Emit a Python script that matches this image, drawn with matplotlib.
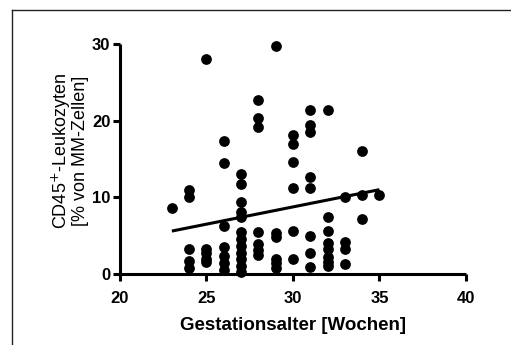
import numpy as np
import matplotlib.pyplot as plt
from matplotlib.lines import Line2D

plt.rcParams["font.family"] = ["Liberation Sans", "DejaVu Sans"]

# Gestational age (weeks) and CD45+ share per sample, grouped by week
weeks = [23, 24, 25, 26, 27, 28, 29, 30, 31, 32, 33, 34, 35]
cd45_by_week = [
    [8.6],
    [11.0, 10.0, 3.2, 1.7, 0.8],
    [28.1, 3.3, 2.8, 1.9, 1.5],
    [17.4, 14.5, 6.2, 3.5, 2.3, 1.4, 0.5],
    [13.1, 11.7, 9.4, 8.1, 7.4, 5.5, 4.6, 3.7, 2.8, 1.9, 1.0, 0.3],
    [22.7, 20.3, 19.2, 5.5, 3.9, 3.1, 2.5],
    [29.8, 5.3, 4.8, 2.0, 1.4, 0.8],
    [18.1, 17.0, 14.6, 11.2, 5.6, 1.9],
    [21.4, 19.4, 18.5, 12.6, 11.2, 4.9, 2.7, 0.9],
    [21.4, 7.4, 5.6, 4.0, 3.3, 2.2, 1.6, 1.1],
    [10.0, 4.2, 3.2, 1.3],
    [16.0, 10.3, 7.2],
    [10.3],
]

# regression line as reported (ends at first and last week)
fit_weeks = [23, 35]
fit_cd45 = [5.6, 11.0]

x_ticks = [20, 25, 30, 35, 40]
y_ticks = [0, 10, 20, 30]

age = np.concatenate([[w] * len(v) for w, v in zip(weeks, cd45_by_week)])
cd45 = np.concatenate(cd45_by_week)

fig = plt.figure(figsize=(5.11, 3.45), dpi=100)
ax = fig.add_axes([0.2348, 0.2058, 0.677, 0.6667])

ax.scatter(age, cd45, s=60, color="black", linewidths=0, zorder=3, clip_on=False)
ax.plot(fit_weeks, fit_cd45, color="black", lw=2.2, solid_capstyle="butt", zorder=2)

ax.set_xlim(20, 40)
ax.set_ylim(0, 30)
ax.set_xticks(x_ticks)
ax.set_yticks(y_ticks)

for side in ["top", "right"]:
    ax.spines[side].set_visible(False)
for side in ["left", "bottom"]:
    ax.spines[side].set_linewidth(2.2)
    ax.spines[side].set_capstyle("butt")

ax.tick_params(axis="both", width=2.2, length=5, labelsize=12)
ax.tick_params(axis="x", pad=7.5)
ax.tick_params(axis="y", pad=2)
for lbl in ax.get_xticklabels() + ax.get_yticklabels():
    lbl.set_fontweight("bold")

ax.set_xlabel("Gestationsalter [Wochen]", fontsize=13.5, fontweight="bold", labelpad=8)
ax.set_ylabel("CD45$^{+}$-Leukozyten\n[% von MM-Zellen]", fontsize=13, labelpad=2,
              linespacing=0.95)
ax.yaxis.label.set_y(0.535)

# thin frame around the panel (only top and left edges fall inside the image)
fig.add_artist(Line2D([12 / 511, 12 / 511], [0, 1 - 10 / 345], transform=fig.transFigure,
                      color="#222222", lw=1.0))
fig.add_artist(Line2D([12 / 511, 1], [1 - 10 / 345, 1 - 10 / 345], transform=fig.transFigure,
                      color="#222222", lw=1.0))

plt.savefig("out.png", dpi=100)
